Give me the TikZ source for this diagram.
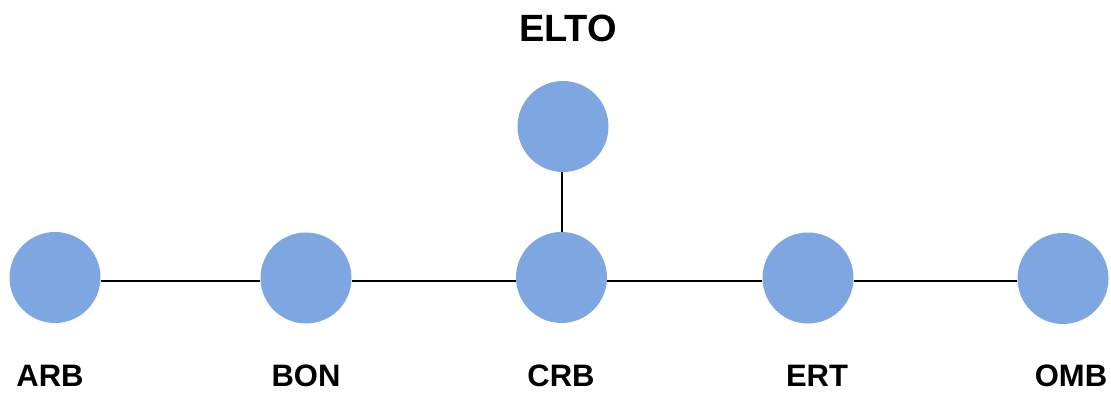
\documentclass[tikz,border=0pt]{standalone}
\usepackage{fontspec}
\setmainfont{Liberation Sans}
\begin{document}
\begin{tikzpicture}[x=1pt,y=1pt,
  dot/.style={circle,fill=dotblue,draw=none,minimum size=91pt,inner sep=0pt},
  lbl/.style={font=\bfseries\fontsize{31}{31}\selectfont,inner sep=0pt,anchor=base},
  edge/.style={draw=black,line width=2pt}]
\definecolor{dotblue}{HTML}{7EA6E0}
\useasboundingbox (0,0) rectangle (1111,393);
\coordinate (base) at (0,112);
\coordinate (vert) at (562,0);
\node[dot] (arb) at (55,115.5) {};
\node[dot] (bon) at (306,115) {};
\node[dot] (crb) at (561.5,115.5) {};
\node[dot] (elto) at (563,266.5) {};
\node[dot] (ert) at (808,115) {};
\node[dot] (omb) at (1063,114.5) {};
\draw[edge] (arb.east |- base) -- (bon.west |- base);
\draw[edge] (bon.east |- base) -- (crb.west |- base);
\draw[edge] (crb.east |- base) -- (ert.west |- base);
\draw[edge] (ert.east |- base) -- (omb.west |- base);
\draw[edge] (vert |- elto.south) -- (vert |- crb.north);
\node[lbl] (tarb) at (50,6.5) {ARB};
\node[lbl] (tbon) at (306,6.5) {BON};
\node[lbl] (tcrb) at (561,6.5) {CRB};
\node[lbl] (tert) at (817,6.5) {ERT};
\node[lbl] (tomb) at (1071,6.5) {OMB};
\node[lbl,font=\bfseries\fontsize{38}{38}\selectfont] (telto) at (568,351.5) {ELTO};
\end{tikzpicture}
\end{document}
